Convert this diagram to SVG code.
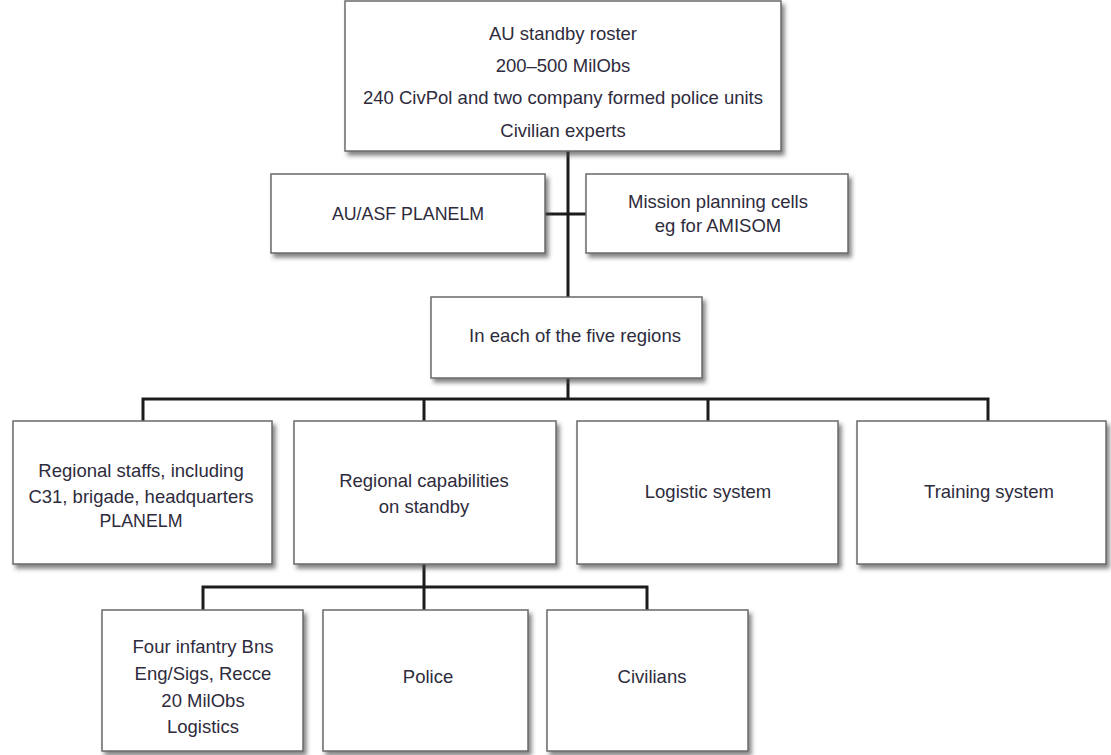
<svg xmlns="http://www.w3.org/2000/svg" width="1111" height="755" viewBox="0 0 1111 755">
<style>
.box{fill:#fff;stroke:#6a6a6a;stroke-width:1.5;filter:url(#sh)}
.t{font-family:"Liberation Sans",Arial,sans-serif;font-size:18.5px;fill:#2e2b3c;text-anchor:middle}
.caps{font-size:17.8px}
.c{fill:none;stroke:#1c1c1c;stroke-width:3;stroke-linecap:square}
</style>
<defs>
<filter id="sh" x="-10%" y="-10%" width="130%" height="130%">
<feDropShadow dx="3" dy="4" stdDeviation="2.2" flood-color="#444" flood-opacity="0.65"/>
</filter>
</defs>
<rect width="1111" height="755" fill="#fff"/>
<g id="connectors">
<path class="c" d="M568 152V297M545 214H586"/>
<path class="c" d="M568 378V399M143 421V399H988V421M424 399V421M708 399V421"/>
<path class="c" d="M424 564V587M203 610V587H647V610M424 587V610"/>
</g>
<g id="n-top">
<rect class="box" x="345" y="1" width="436" height="150"/>
<text class="t" x="563" y="39.5">AU standby roster</text>
<text class="t" x="563" y="71.5">200–500 MilObs</text>
<text class="t" x="563" y="103.5">240 CivPol and two company formed police units</text>
<text class="t" x="563" y="136.5">Civilian experts</text>
</g>
<g id="n-planelm">
<rect class="box" x="271" y="174" width="274" height="79"/>
<text class="t caps" x="408" y="220">AU/ASF PLANELM</text>
</g>
<g id="n-mission">
<rect class="box" x="586" y="174" width="262" height="79"/>
<text class="t" x="718" y="208">Mission planning cells</text>
<text class="t" x="718" y="232">eg for AMISOM</text>
</g>
<g id="n-regions">
<rect class="box" x="431" y="297" width="271" height="81"/>
<text class="t" x="575" y="342">In each of the five regions</text>
</g>
<g id="n-staffs">
<rect class="box" x="13" y="421" width="259" height="143"/>
<text class="t" x="141" y="477">Regional staffs, including</text>
<text class="t" x="141" y="503">C31, brigade, headquarters</text>
<text class="t caps" x="141" y="527">PLANELM</text>
</g>
<g id="n-capabilities">
<rect class="box" x="294" y="421" width="262" height="143"/>
<text class="t" x="424" y="487">Regional capabilities</text>
<text class="t" x="424" y="513">on standby</text>
</g>
<g id="n-logistic">
<rect class="box" x="577" y="421" width="261" height="143"/>
<text class="t" x="708" y="498">Logistic system</text>
</g>
<g id="n-training">
<rect class="box" x="857" y="421" width="249" height="143"/>
<text class="t" x="989" y="498">Training system</text>
</g>
<g id="n-infantry">
<rect class="box" x="102" y="610" width="201" height="141"/>
<text class="t" x="203" y="653">Four infantry Bns</text>
<text class="t" x="203" y="680">Eng/Sigs, Recce</text>
<text class="t" x="203" y="707">20 MilObs</text>
<text class="t" x="203" y="733">Logistics</text>
</g>
<g id="n-police">
<rect class="box" x="323" y="610" width="205" height="141"/>
<text class="t" x="428" y="683">Police</text>
</g>
<g id="n-civilians">
<rect class="box" x="547" y="610" width="201" height="141"/>
<text class="t" x="652" y="683">Civilians</text>
</g>
</svg>
